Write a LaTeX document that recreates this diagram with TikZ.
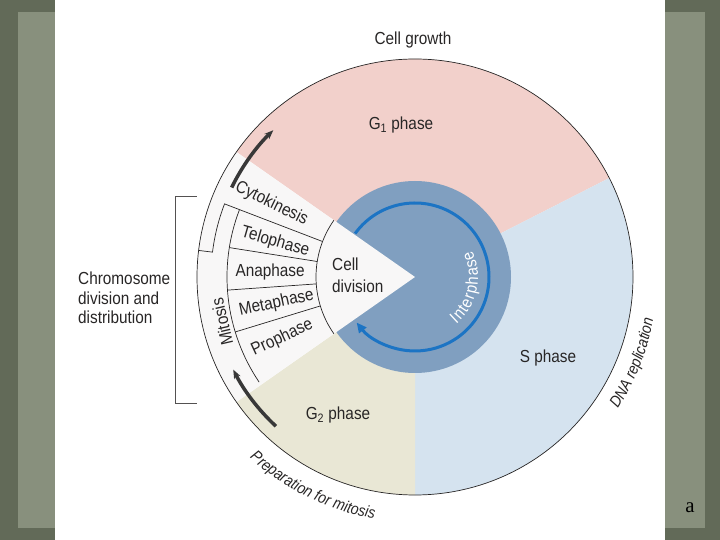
\documentclass[tikz,border=0pt]{standalone}
\usepackage{fontspec}
\setmainfont{Liberation Sans}[FakeStretch=0.88]
\newfontfamily\slidefont{Liberation Serif}
\usetikzlibrary{arrows.meta, decorations.text}
\definecolor{inkcol}{RGB}{40,38,38}
\definecolor{gonecol}{RGB}{242,208,203}
\definecolor{sphasecol}{RGB}{213,227,239}
\definecolor{gtwocol}{RGB}{233,231,213}
\definecolor{diskcol}{RGB}{128,159,192}
\definecolor{ringcol}{RGB}{28,116,196}
\definecolor{wedgecol}{RGB}{248,247,247}
\definecolor{framecol}{RGB}{98,106,88}
\definecolor{papercol}{RGB}{136,144,125}
\newcommand{\phasefont}{\fontsize{17.5}{22}\selectfont}
\newcommand{\arcfont}{\fontsize{16}{18}\selectfont\itshape}

\begin{document}
\begin{tikzpicture}[
    x=1bp, y=1bp,
    phasetext/.style={font=\phasefont, text=inkcol, inner sep=0pt},
    thinline/.style={draw=inkcol, line width=0.7bp},
    cyclearrow/.style={-{Stealth[length=9bp, width=7bp]}, line width=3.5bp, draw=black!78},
    ringarrow/.style={-{Triangle[length=10bp, width=9bp]}, line width=3bp, draw=ringcol}
]
    % Slide frame
    \fill[framecol] (-415,-263) rectangle (305,277);
    \fill[papercol] (-397,-251) rectangle (290,265);
    \fill[white] (-360,-263) rectangle (250,277);
    \useasboundingbox (-415,-263) rectangle (305,277);
    \coordinate (C) at (0,0);

    % Phase sectors
    \fill[gonecol] (C) -- (27:218) arc[start angle=27, end angle=145, radius=218] -- cycle;
    \fill[sphasecol] (C) -- (-90:218) arc[start angle=-90, end angle=27, radius=218] -- cycle;
    \fill[gtwocol] (C) -- (215:218) arc[start angle=215, end angle=270, radius=218] -- cycle;
    \fill[diskcol] (C) circle[radius=96];
    \fill[wedgecol] (C) -- (145:218) arc[start angle=145, end angle=215, radius=218] -- cycle;
    \draw[thinline] (C) circle[radius=218];

    % Mitosis wedge
    \draw[thinline] (145:99) arc[start angle=145, end angle=215, radius=99];
    \draw[thinline] (159:188) arc[start angle=159, end angle=214, radius=188];
    \draw[thinline] (159:99) -- (159:204) arc[start angle=159, end angle=173, radius=204] -- (173:218);
    \foreach \a in {171,184,197}
        \draw[thinline] (\a:99) -- (\a:188);

    % Arrows
    \draw[cyclearrow] (154:204) arc[start angle=154, end angle=134, radius=204];
    \draw[cyclearrow] (227:204) arc[start angle=227, end angle=207, radius=204];
    \draw[ringarrow] (144:74) arc[start angle=144, end angle=-142, radius=74];

    % Labels
    \node[phasetext] (growth) at (-2,237) {Cell growth};
    \node[phasetext] (gone) at (-14,152) {G\textsubscript{1} phase};
    \node[phasetext] (sphase) at (133,-81) {S phase};
    \node[phasetext] (gtwo) at (-77,-138) {G\textsubscript{2} phase};
    \node[phasetext, anchor=west, align=left] (celldiv) at (-83,2) {Cell\\division};
    \node[phasetext, rotate=-26] (cyto) at (153:161) {Cytokinesis};
    \node[phasetext, rotate=-16] (telo) at (166:144) {Telophase};
    \node[phasetext] (ana) at (178:145) {Anaphase};
    \node[phasetext, rotate=12] (meta) at (190.7:141) {Metaphase};
    \node[phasetext, rotate=25] (pro) at (204.6:146) {Prophase};
    \node[phasetext, rotate=103] (mitosis) at (-193,-45) {Mitosis};
    \node[phasetext, anchor=west, align=left, font=\fontsize{17.5}{19.5}\selectfont] (chromo) at (-337,-21) {Chromosome\\division and\\distribution};
    \node[font=\slidefont\fontsize{21}{21}\selectfont] (letter) at (275,-231) {a};

    % Bracket
    \draw[draw=inkcol!80, line width=0.8bp] (-218,81) -- (-240,81) -- (-240,-126) -- (-218,-126);

    % Curved labels
    \path[decorate, decoration={text along path, text align={fit to path},
        text={|\color{white}\fontsize{17}{17}\selectfont|Interphase}}]
        (-49:63) arc[start angle=-49, end angle=25, radius=63];
    \path[decorate, decoration={text along path, text align=center,
        text={|\color{inkcol}\arcfont|DNA replication}}]
        (-40:242) arc[start angle=-40, end angle=-3, radius=242];
    \path[decorate, decoration={text along path, text align=center,
        text={|\color{inkcol}\arcfont|Preparation for mitosis}}]
        (222:245) arc[start angle=222, end angle=266, radius=245];
\end{tikzpicture}
\end{document}
